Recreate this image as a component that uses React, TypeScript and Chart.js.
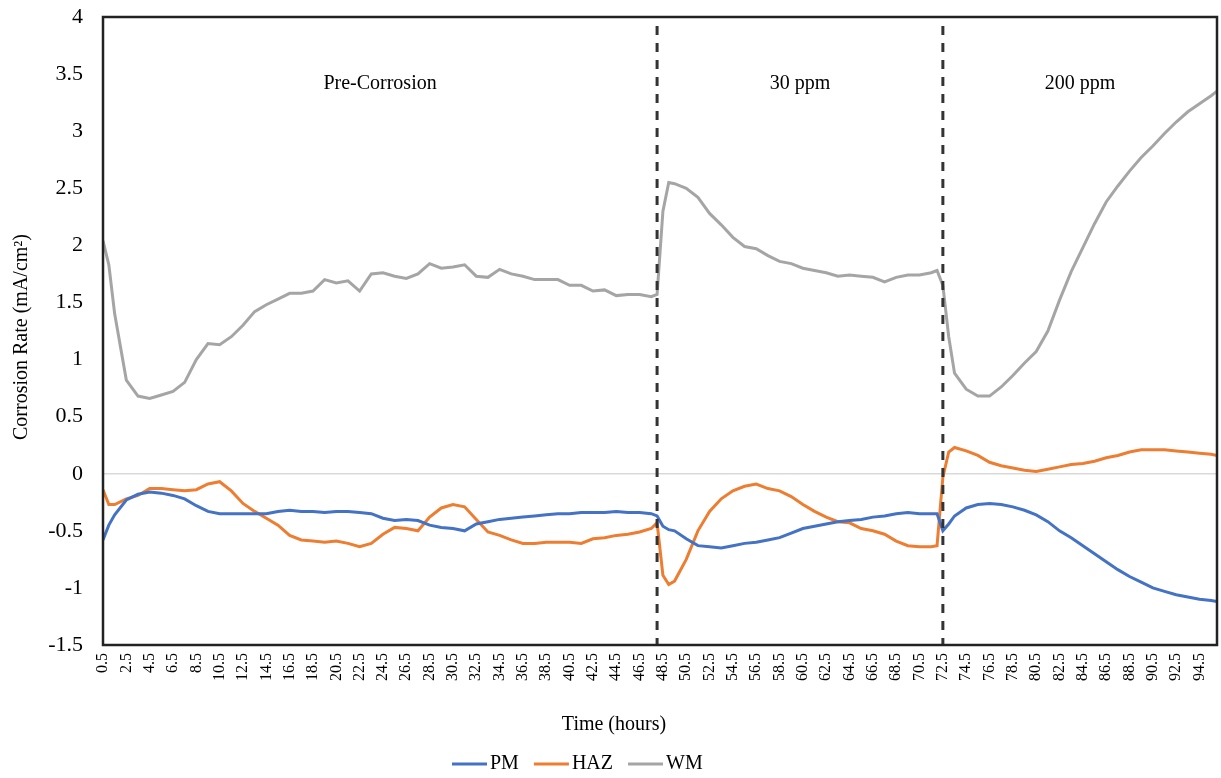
import React, { useEffect, useRef } from 'react';
import { Chart, registerables } from 'chart.js';

Chart.register(...registerables);

// Time (hours) of each sample
const hours = [
  0.5, 1, 1.5, 2.5, 3.5, 4.5, 5.5, 6.5, 7.5, 8.5, 9.5, 10.5, 11.5, 12.5, 13.5, 14.5, 15.5, 16.5, 17.5, 18.5,
  19.5, 20.5, 21.5, 22.5, 23.5, 24.5, 25.5, 26.5, 27.5, 28.5, 29.5, 30.5, 31.5, 32.5, 33.5, 34.5, 35.5, 36.5,
  37.5, 38.5, 39.5, 40.5, 41.5, 42.5, 43.5, 44.5, 45.5, 46.5, 47.5, 48, 48.5, 49, 49.5, 50.5, 51.5, 52.5, 53.5,
  54.5, 55.5, 56.5, 57.5, 58.5, 59.5, 60.5, 61.5, 62.5, 63.5, 64.5, 65.5, 66.5, 67.5, 68.5, 69.5, 70.5, 71.5,
  72, 72.5, 73, 73.5, 74.5, 75.5, 76.5, 77.5, 78.5, 79.5, 80.5, 81.5, 82.5, 83.5, 84.5, 85.5, 86.5, 87.5, 88.5,
  89.5, 90.5, 91.5, 92.5, 93.5, 94.5, 95.5, 96,
];

const pm = [
  -0.58, -0.45, -0.36, -0.23, -0.18, -0.16, -0.17, -0.19, -0.22, -0.28, -0.33, -0.35, -0.35, -0.35, -0.35, -0.35, -0.33, -0.32, -0.33, -0.33,
  -0.34, -0.33, -0.33, -0.34, -0.35, -0.39, -0.41, -0.40, -0.41, -0.45, -0.47, -0.48, -0.50, -0.44, -0.42, -0.40, -0.39, -0.38,
  -0.37, -0.36, -0.35, -0.35, -0.34, -0.34, -0.34, -0.33, -0.34, -0.34, -0.35, -0.37, -0.46, -0.49, -0.50, -0.57, -0.63, -0.64, -0.65,
  -0.63, -0.61, -0.60, -0.58, -0.56, -0.52, -0.48, -0.46, -0.44, -0.42, -0.41, -0.40, -0.38, -0.37, -0.35, -0.34, -0.35, -0.35,
  -0.35, -0.50, -0.44, -0.37, -0.30, -0.27, -0.26, -0.27, -0.29, -0.32, -0.36, -0.42, -0.50, -0.56, -0.63, -0.70, -0.77, -0.84, -0.90,
  -0.95, -1.00, -1.03, -1.06, -1.08, -1.10, -1.11, -1.12,
];

const haz = [
  -0.14, -0.27, -0.27, -0.22, -0.19, -0.13, -0.13, -0.14, -0.15, -0.14, -0.09, -0.07, -0.15, -0.26, -0.33, -0.39, -0.45, -0.54, -0.58, -0.59,
  -0.60, -0.59, -0.61, -0.64, -0.61, -0.53, -0.47, -0.48, -0.50, -0.38, -0.30, -0.27, -0.29, -0.40, -0.51, -0.54, -0.58, -0.61,
  -0.61, -0.60, -0.60, -0.60, -0.61, -0.57, -0.56, -0.54, -0.53, -0.51, -0.48, -0.43, -0.89, -0.97, -0.94, -0.75, -0.50, -0.33, -0.22,
  -0.15, -0.11, -0.09, -0.13, -0.15, -0.20, -0.27, -0.33, -0.38, -0.42, -0.43, -0.48, -0.50, -0.53, -0.59, -0.63, -0.64, -0.64,
  -0.63, -0.03, 0.19, 0.23, 0.20, 0.16, 0.10, 0.07, 0.05, 0.03, 0.02, 0.04, 0.06, 0.08, 0.09, 0.11, 0.14, 0.16, 0.19,
  0.21, 0.21, 0.21, 0.20, 0.19, 0.18, 0.17, 0.16,
];

const wm = [
  2.04, 1.83, 1.40, 0.82, 0.68, 0.66, 0.69, 0.72, 0.80, 1.00, 1.14, 1.13, 1.20, 1.30, 1.42, 1.48, 1.53, 1.58, 1.58, 1.60,
  1.70, 1.67, 1.69, 1.60, 1.75, 1.76, 1.73, 1.71, 1.75, 1.84, 1.80, 1.81, 1.83, 1.73, 1.72, 1.79, 1.75, 1.73,
  1.70, 1.70, 1.70, 1.65, 1.65, 1.60, 1.61, 1.56, 1.57, 1.57, 1.55, 1.57, 2.30, 2.55, 2.54, 2.50, 2.42, 2.28, 2.18,
  2.07, 1.99, 1.97, 1.91, 1.86, 1.84, 1.80, 1.78, 1.76, 1.73, 1.74, 1.73, 1.72, 1.68, 1.72, 1.74, 1.74, 1.76,
  1.78, 1.65, 1.20, 0.88, 0.74, 0.68, 0.68, 0.76, 0.86, 0.97, 1.07, 1.25, 1.52, 1.77, 1.98, 2.19, 2.38, 2.52, 2.65,
  2.77, 2.87, 2.98, 3.08, 3.17, 3.24, 3.31, 3.35,
];

const xTickLabels = [
  0.5, 2.5, 4.5, 6.5, 8.5, 10.5, 12.5, 14.5, 16.5, 18.5, 20.5, 22.5, 24.5, 26.5, 28.5, 30.5, 32.5, 34.5, 36.5, 38.5,
  40.5, 42.5, 44.5, 46.5, 48.5, 50.5, 52.5, 54.5, 56.5, 58.5, 60.5, 62.5, 64.5, 66.5, 68.5, 70.5, 72.5, 74.5, 76.5,
  78.5, 80.5, 82.5, 84.5, 86.5, 88.5, 90.5, 92.5, 94.5,
];

const phaseEdges = [0.5, 48, 72.5, 96];
const phaseBoundaries = [48, 72.5];
const phaseNames = ['Pre-Corrosion', '30 ppm', '200 ppm'];
const phaseLabelLevel = 3.37;

const seriesNames = ['PM', 'HAZ', 'WM'];
const seriesColors = ['#4472C4', '#ED7D31', '#A5A5A5'];

const FONT = '"Liberation Serif", "Times New Roman", serif';

const overlay = {
  id: 'overlay',
  afterDatasetsDraw(chart: any) {
    const { ctx, chartArea: a, scales } = chart;
    const x = scales.x;
    const y = scales.y;
    ctx.save();
    // phase boundaries
    ctx.strokeStyle = '#333333';
    ctx.lineWidth = 3;
    ctx.setLineDash([9, 8]);
    phaseBoundaries.forEach((b) => {
      const px = x.getPixelForValue(b);
      ctx.beginPath();
      ctx.moveTo(px, a.top + 9);
      ctx.lineTo(px, a.bottom);
      ctx.stroke();
    });
    ctx.setLineDash([]);
    // frame
    ctx.strokeStyle = '#222222';
    ctx.lineWidth = 2.5;
    ctx.strokeRect(a.left, a.top, a.right - a.left, a.bottom - a.top);
    // phase labels
    ctx.fillStyle = '#000';
    ctx.font = `20px ${FONT}`;
    ctx.textAlign = 'center';
    ctx.textBaseline = 'alphabetic';
    phaseNames.forEach((n, i) => {
      const c = (phaseEdges[i] + phaseEdges[i + 1]) / 2;
      ctx.fillText(n, x.getPixelForValue(c), y.getPixelForValue(phaseLabelLevel));
    });
    ctx.restore();
  },
  afterDraw(chart: any) {
    const { ctx, chartArea: a } = chart;
    ctx.save();
    ctx.fillStyle = '#000';
    ctx.font = `20px ${FONT}`;
    // x title
    ctx.textAlign = 'center';
    ctx.textBaseline = 'alphabetic';
    ctx.fillText('Time (hours)', 614, a.bottom + 85);
    // y title
    ctx.save();
    ctx.translate(22, 337);
    ctx.rotate(-Math.PI / 2);
    ctx.textBaseline = 'middle';
    ctx.fillText('Corrosion Rate (mA/cm²)', 0, 0);
    ctx.restore();
    // legend
    let lx = 452;
    const ly = 764;
    ctx.textAlign = 'left';
    ctx.textBaseline = 'middle';
    seriesNames.forEach((n, i) => {
      ctx.strokeStyle = seriesColors[i];
      ctx.lineWidth = 3;
      ctx.beginPath();
      ctx.moveTo(lx, ly);
      ctx.lineTo(lx + 35, ly);
      ctx.stroke();
      ctx.fillText(n, lx + 38, ly);
      lx += 38 + ctx.measureText(n).width + 15;
    });
    ctx.restore();
  },
};

export default function App() {
  const ref = useRef<HTMLCanvasElement>(null);
  useEffect(() => {
    if (!ref.current) return;
    const mk = (vals: number[]) => hours.map((h, i) => ({ x: h, y: vals[i] }));
    const chart = new Chart(ref.current, {
      type: 'line',
      data: {
        datasets: [pm, haz, wm].map((vals, i) => ({
          label: seriesNames[i],
          data: mk(vals),
          borderColor: seriesColors[i],
          backgroundColor: seriesColors[i],
          borderWidth: 3,
          pointRadius: 0,
          tension: 0,
          fill: false,
        })),
      },
      options: {
        responsive: false,
        animation: false,
        events: [],
        layout: { padding: { left: 0, top: 17, right: 4, bottom: 0 } },
        plugins: { legend: { display: false }, tooltip: { enabled: false }, title: { display: false } },
        scales: {
          x: {
            type: 'linear',
            min: 0.5,
            max: 96,
            afterBuildTicks: (scale: any) => {
              scale.ticks = xTickLabels.map((v) => ({ value: v }));
            },
            afterFit: (scale: any) => {
              scale.height = 133;
              scale.paddingLeft = 0;
              scale.paddingRight = 0;
            },
            grid: { display: false, drawTicks: false },
            border: { display: false },
            ticks: {
              autoSkip: false,
              maxRotation: 90,
              minRotation: 90,
              padding: 8,
              color: '#000',
              font: { family: FONT, size: 16 },
              callback: (v: any) => String(v),
            },
          },
          y: {
            min: -1.5,
            max: 4,
            afterFit: (scale: any) => {
              scale.width = 103;
              scale.paddingTop = 0;
              scale.paddingBottom = 0;
            },
            grid: {
              drawTicks: false,
              lineWidth: 1.5,
              color: (c: any) => (c.tick && c.tick.value === 0 ? '#d9d9d9' : 'rgba(0,0,0,0)'),
            },
            border: { display: false },
            ticks: {
              stepSize: 0.5,
              padding: 20,
              color: '#000',
              font: { family: FONT, size: 22 },
              callback: (v: any) => String(v),
            },
          },
        },
      },
      plugins: [overlay],
    } as any);
    return () => chart.destroy();
  }, []);
  return (
    <div style={{ position: 'absolute', left: 0, top: 0, width: 1221, height: 778, background: '#fff' }}>
      <canvas ref={ref} width={1221} height={778} />
    </div>
  );
}
